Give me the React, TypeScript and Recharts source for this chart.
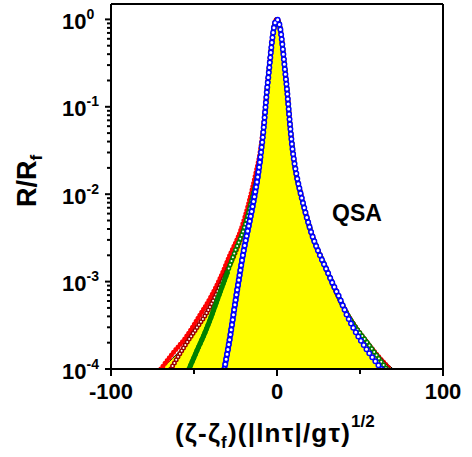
import { ComposedChart, Area, Line, XAxis, YAxis, ReferenceLine } from "recharts";

// QSA curve (yellow area, black outline)
const qsaX = [-70, -63, -56, -50, -42, -38, -33, -30, -25, -20, -15, -12, -10, -9, -8, -7, -6, -5, -4, -3, -2, -1, 0, 1, 2, 3, 4, 5, 6, 7, 8, 9, 10, 12, 15, 20, 25, 30, 33, 38, 42, 50, 56, 63, 70];
const qsaR = [1e-4, 1.32e-4, 1.82e-4, 2.51e-4, 4.37e-4, 6.31e-4, 1e-3, 1.35e-3, 2.19e-3, 3.98e-3, 8.91e-3, 1.58e-2, 2.63e-2, 3.72e-2, 5.75e-2, 9.55e-2, 0.158, 0.24, 0.372, 0.562, 0.776, 0.933, 1, 0.933, 0.776, 0.562, 0.372, 0.24, 0.158, 9.55e-2, 5.75e-2, 3.72e-2, 2.63e-2, 1.58e-2, 8.91e-3, 3.98e-3, 2.19e-3, 1.35e-3, 1e-3, 6.31e-4, 4.37e-4, 2.51e-4, 1.82e-4, 1.32e-4, 1e-4];

// red filled circles
const redX = [-70, -62, -55, -47, -40, -34, -28, -22, -17, -13, -10, -8, -6.5, -5, -3, -1.5, 0, 2, 4, 6, 8, 10, 15, 20, 30, 42, 56, 68];
const redR = [1e-4, 1.58e-4, 2.29e-4, 3.98e-4, 6.61e-4, 1.12e-3, 2.09e-3, 3.8e-3, 7.94e-3, 1.66e-2, 3.16e-2, 6.31e-2, 0.126, 0.251, 0.562, 0.891, 1, 0.776, 0.372, 0.158, 5.75e-2, 2.63e-2, 8.91e-3, 3.98e-3, 1.35e-3, 4.37e-4, 1.82e-4, 1e-4];

// dark red open circles
const brownX = [-64, -55, -48, -43, -37, -32, -25, -20, -15, -12, -10, -8, -6, -4, -2, 0, 2, 4, 6, 8, 10, 15, 20, 30, 42, 56, 67];
const brownR = [1e-4, 1.91e-4, 3.02e-4, 4.17e-4, 6.92e-4, 1.12e-3, 2.19e-3, 3.98e-3, 8.91e-3, 1.58e-2, 2.63e-2, 5.75e-2, 0.158, 0.372, 0.776, 1, 0.776, 0.372, 0.158, 5.75e-2, 2.63e-2, 8.91e-3, 3.98e-3, 1.35e-3, 4.37e-4, 1.82e-4, 1e-4];

// green circles (dense part drawn solid)
const greenX = [-53, -48, -44, -40, -36, -30, -25, -20, -15, -12, -10, -8, -6, -4, -2, 0, 2, 4, 6, 8, 10, 15, 20, 30, 42, 56, 66];
const greenR = [1e-4, 1.66e-4, 2.45e-4, 3.8e-4, 6.17e-4, 1.26e-3, 2.29e-3, 3.98e-3, 8.91e-3, 1.58e-2, 2.63e-2, 5.75e-2, 0.158, 0.372, 0.776, 1, 0.776, 0.372, 0.158, 5.75e-2, 2.63e-2, 8.91e-3, 3.98e-3, 1.35e-3, 4.37e-4, 1.82e-4, 1e-4];
const greenDenseX = [-53, -48, -44, -40, -36, -30];
const greenDenseR = [1e-4, 1.66e-4, 2.45e-4, 3.8e-4, 6.17e-4, 1.26e-3];

// blue open circles (dense part drawn solid)
const blueX = [-31.7, -30, -28, -25, -22.5, -20, -17, -14.3, -12, -10, -8, -7, -6, -5, -4, -3, -2, -1, 0, 1, 2, 3, 4, 5, 6, 7, 8, 9, 10, 12, 15, 20, 25, 30, 33, 38, 42, 50, 56, 63];
const blueR = [1e-4, 1.51e-4, 2.51e-4, 6.03e-4, 1.2e-3, 2.29e-3, 4.37e-3, 7.94e-3, 1.41e-2, 2.63e-2, 5.75e-2, 9.55e-2, 0.158, 0.24, 0.372, 0.562, 0.776, 0.933, 1, 0.933, 0.776, 0.562, 0.372, 0.24, 0.158, 9.55e-2, 5.75e-2, 3.72e-2, 2.63e-2, 1.58e-2, 8.91e-3, 3.98e-3, 2.19e-3, 1.35e-3, 1e-3, 6.31e-4, 4.17e-4, 2.19e-4, 1.48e-4, 1e-4];
const blueDenseX = [-31.7, -30, -28, -25, -22.5, -20, -17, -14.3, -12, -10];
const blueDenseR = [1e-4, 1.51e-4, 2.51e-4, 6.03e-4, 1.2e-3, 2.29e-3, 4.37e-3, 7.94e-3, 1.41e-2, 2.63e-2];

const xMajor = [-100, 0, 100];
const xTicks = [-100, -50, 0, 50, 100];
const xTickLabels = ["-100", "0", "100"];
const yMajor = [1e-4, 1e-3, 1e-2, 1e-1, 1];
const yExponents = ["-4", "-3", "-2", "-1", "0"];
const yMinorSteps = [2, 3, 4, 5, 6, 7, 8, 9];
const yTicks = [...yMajor, ...yMajor.slice(0, 4).flatMap((d) => yMinorSteps.map((m) => m * d))];

const font = "'Liberation Sans', Arial, sans-serif";

const zip = (xs: number[], rs: number[]) => xs.map((x, i) => ({ x, r: rs[i] }));

function YTick({ x, y, payload }: any) {
  const i = yMajor.indexOf(payload.value);
  const major = i >= 0;
  return (
    <g>
      <line x1={x} x2={x - (major ? 6 : 4)} y1={y} y2={y} stroke="#000" strokeWidth={2} />
      {major && (
        <text x={62} y={y + 9.5} fontSize={22} fontWeight="bold" fontFamily={font} fill="#000">
          10
          <tspan dy={-10} fontSize={14}>{yExponents[i]}</tspan>
        </text>
      )}
    </g>
  );
}

function XTick({ x, y, payload }: any) {
  const i = xMajor.indexOf(payload.value);
  const major = i >= 0;
  return (
    <g>
      <line x1={x} x2={x} y1={y} y2={y + (major ? 7 : 5)} stroke="#000" strokeWidth={2} />
      {major && (
        <text x={x} y={y + 30} textAnchor="middle" fontSize={22} fontWeight="bold" fontFamily={font} fill="#000">
          {xTickLabels[i]}
        </text>
      )}
    </g>
  );
}

const lineBase = {
  type: "monotone" as const,
  dataKey: "r",
  dot: false,
  activeDot: false,
  isAnimationActive: false,
  strokeLinecap: "round" as const,
};

export default function App() {
  return (
    <div style={{ position: "absolute", left: 0, top: 0, width: 472, height: 457 }}>
      <ComposedChart width={472} height={457} margin={{ top: 4, right: 29, left: 0, bottom: 0 }}>
        <XAxis
          type="number"
          dataKey="x"
          domain={[-100, 100]}
          ticks={xTicks}
          interval={0}
          tick={<XTick />}
          tickLine={false}
          tickSize={0}
          tickMargin={0}
          height={88}
          axisLine={{ stroke: "#000", strokeWidth: 2 }}
          allowDataOverflow
        />
        <YAxis
          type="number"
          scale="log"
          domain={[1e-4, 1.5]}
          ticks={yTicks}
          interval={0}
          tick={<YTick />}
          tickLine={false}
          tickSize={0}
          tickMargin={0}
          width={111}
          axisLine={{ stroke: "#000", strokeWidth: 2 }}
          allowDataOverflow
        />
        <Area
          data={zip(qsaX, qsaR)}
          type="monotone"
          dataKey="r"
          baseValue="dataMin"
          fill="#ffff00"
          fillOpacity={1}
          stroke="#000"
          strokeWidth={1}
          dot={false}
          activeDot={false}
          isAnimationActive={false}
        />
        <Line {...lineBase} data={zip(redX, redR)} stroke="#ff0000" strokeWidth={5} strokeDasharray="0 3.5" />
        <Line {...lineBase} data={zip(brownX, brownR)} stroke="#990000" strokeWidth={5} strokeDasharray="0 3.5" />
        <Line {...lineBase} data={zip(brownX, brownR)} stroke="#ffffff" strokeWidth={2} strokeDasharray="0 3.5" />
        <Line {...lineBase} data={zip(greenX, greenR)} stroke="#008000" strokeWidth={5} strokeDasharray="0 4" />
        <Line {...lineBase} data={zip(greenX, greenR)} stroke="#ffffff" strokeWidth={2} strokeDasharray="0 4" />
        <Line {...lineBase} data={zip(greenDenseX, greenDenseR)} stroke="#008000" strokeWidth={5} />
        <Line {...lineBase} data={zip(blueDenseX, blueDenseR)} stroke="#0000ff" strokeWidth={5.5} />
        <Line {...lineBase} data={zip(blueX, blueR)} stroke="#0000ff" strokeWidth={6} strokeDasharray="0 5" />
        <Line {...lineBase} data={zip(blueX, blueR)} stroke="#ffffff" strokeWidth={3} strokeDasharray="0 5" />
        <ReferenceLine y={1.5} stroke="#000" strokeWidth={2} />
        <ReferenceLine x={100} stroke="#000" strokeWidth={2} />
      </ComposedChart>
      <svg width={472} height={457} style={{ position: "absolute", left: 0, top: 0, pointerEvents: "none" }}>
        <text x={332} y={221} fontSize={23} fontWeight="bold" fontFamily={font} fill="#000">
          QSA
        </text>
        <text x={175} y={442} fontSize={26} fontWeight="bold" fontFamily={font} fill="#000" letterSpacing={1.2}>
          <tspan>(ζ-ζ</tspan>
          <tspan dy={6} fontSize={17}>f</tspan>
          <tspan dy={-6}>)(|ln</tspan>
          <tspan>τ|/gτ)</tspan>
          <tspan dy={-15} fontSize={17} letterSpacing={0}>1/2</tspan>
        </text>
        <text
          x={36}
          y={181}
          transform="rotate(-90 36 181)"
          textAnchor="middle"
          fontSize={27}
          fontWeight="bold"
          fontFamily={font}
          fill="#000"
        >
          R/R
          <tspan dy={6} fontSize={17}>f</tspan>
        </text>
      </svg>
    </div>
  );
}
